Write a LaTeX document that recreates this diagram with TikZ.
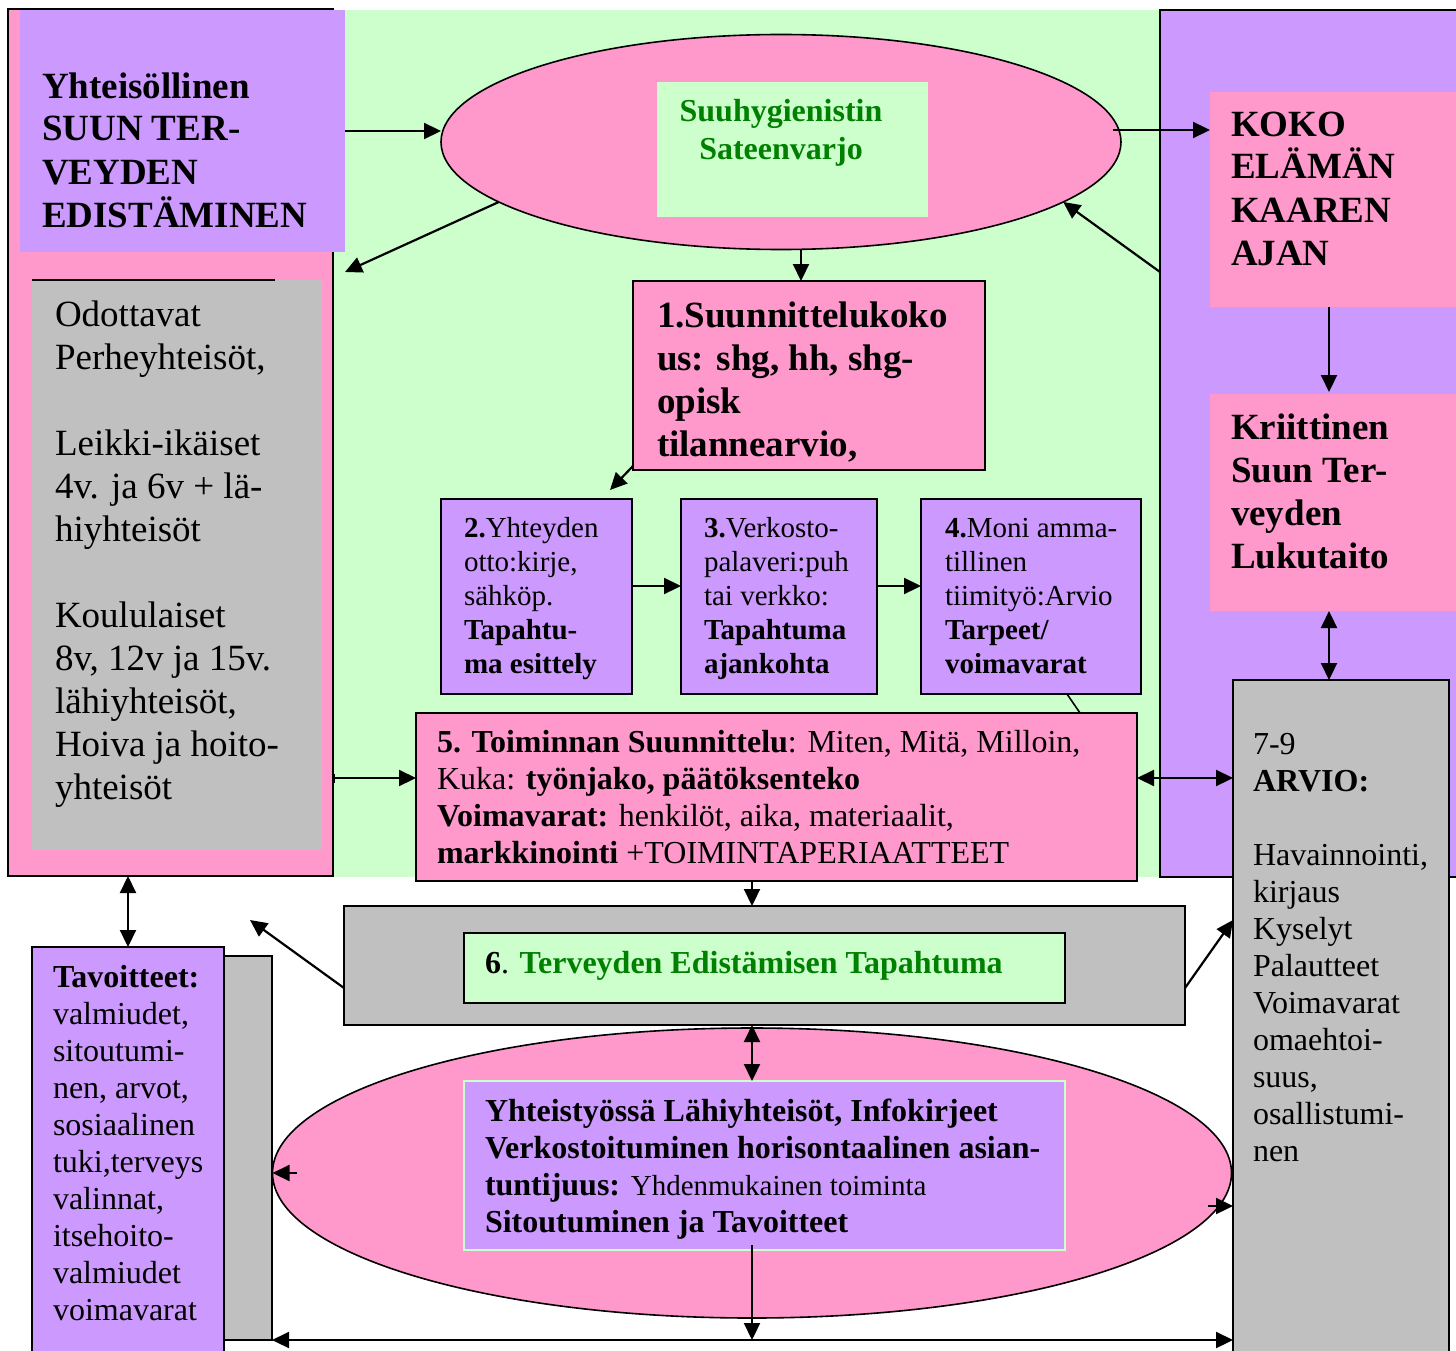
\documentclass[tikz,border=0pt]{standalone}
\usepackage{fontspec}
\setmainfont{Liberation Serif}
\usetikzlibrary{arrows.meta,shapes.geometric,calc}
\definecolor{bggreen}{HTML}{CCFFCC}
\definecolor{pinkc}{HTML}{FF99CC}
\definecolor{purp}{HTML}{CC99FF}
\definecolor{grayc}{HTML}{C0C0C0}
\definecolor{dgreen}{HTML}{008000}
\newcommand{\fsz}[2]{\fontsize{#1}{#2}\selectfont}
\newcommand{\topstrut}{\rule{0pt}{0.8em}}
\begin{document}
\begin{tikzpicture}[x=1pt,y=-1pt,
 box/.style={draw=black, line width=1.6pt, anchor=north west, inner sep=0pt, outer sep=0pt},
 fillbox/.style={anchor=north west, inner sep=0pt, outer sep=0pt},
 txt/.style={anchor=north west, inner sep=0pt, outer sep=0pt, align=left},
 arr/.style={line width=2.2pt, -{Triangle[length=17pt,width=16pt]}},
 darr/.style={line width=2.2pt, {Triangle[length=17pt,width=16pt]}-{Triangle[length=17pt,width=16pt]}},
 barr/.style={line width=2.2pt, {Bar[width=9pt,line width=2pt]}-{Triangle[length=17pt,width=16pt]}},
 ell/.style={ellipse, draw=black, line width=1.6pt, fill=pinkc, inner sep=0pt, outer sep=0pt},
]
\fill[white] (0,0) rectangle (1456,1351);
\useasboundingbox (0,0) rectangle (1456,1351);

% green background
\node[fillbox, fill=bggreen, minimum width=830pt, minimum height=867pt] (bg) at (330,10) {};

% left column
\node[box, fill=pinkc, minimum width=325pt, minimum height=867pt] (lbox) at (8,9) {};
\node[fillbox, fill=purp, minimum width=325pt, minimum height=242pt] (title) at (20,10) {};
\node[fillbox, fill=grayc, minimum width=290pt, minimum height=570pt] (lgray) at (32,280) {};
\draw[line width=1.6pt] (lgray.north west) -- ($(lgray.north west)+(243,0)$);
\node[txt, font=\fsz{37}{43}\bfseries] (titlet) at (42,68.4)
 {\topstrut Yhteisöllinen\\SUUN TER-\\VEYDEN\\EDISTÄMINEN};
\node[txt, font=\fsz{37}{43}] (lgrayt) at (55,296.4)
 {\topstrut Odottavat\\Perheyhteisöt,\\[43pt]Leikki-ikäiset\\4v. ja 6v + lä-\\hiyhteisöt\\[43pt]Koululaiset\\8v, 12v ja 15v.\\lähiyhteisöt,\\Hoiva ja hoito-\\yhteisöt};

% right column
\node[box, fill=purp, minimum width=320pt, minimum height=867pt] (rbox) at (1160,10) {};
\node[fillbox, fill=pinkc, minimum width=250pt, minimum height=215pt] (koko) at (1210,92) {};
\node[fillbox, fill=pinkc, minimum width=250pt, minimum height=217pt] (krit) at (1210,394) {};
\node[txt, font=\fsz{37}{43}\bfseries] (kokot) at (1231,106.4)
 {\topstrut KOKO\\ELÄMÄN\\KAAREN\\AJAN};
\node[txt, font=\fsz{37}{43}\bfseries] (kritt) at (1231,409.4)
 {\topstrut Kriittinen\\Suun Ter-\\veyden\\Lukutaito};
\node[box, fill=grayc, minimum width=216pt, minimum height=700pt] (arvio) at (1233,680) {};
\node[txt, font=\fsz{32}{37}] (arviot) at (1253,728.4)
 {\topstrut 7-9\\\textbf{ARVIO:}\\[37pt]Havainnointi,\\kirjaus\\Kyselyt\\Palautteet\\Voimavarat\\omaehtoi-\\suus,\\osallistumi-\\nen};

% top ellipse
\node[ell, minimum width=680pt, minimum height=215pt] (e1) at (781,142) {};
\node[fillbox, fill=bggreen, minimum width=271pt, minimum height=135pt] (ei) at (657,82) {};
\node[inner sep=0pt, outer sep=0pt, anchor=north, align=center, font=\fsz{32}{38}\bfseries, text=dgreen] (eit) at (781,96.4)
 {\topstrut Suuhygienistin\\Sateenvarjo};

% numbered boxes
\node[box, fill=pinkc, minimum width=352pt, minimum height=189pt] (b1) at (633,281) {};
\node[txt, font=\fsz{37}{43}\bfseries] (b1t) at (657,297.4)
 {\topstrut 1.Suunnittelukoko\\us: shg, hh, shg-\\opisk\\tilannearvio,};
\node[box, fill=purp, minimum width=191pt, minimum height=195pt] (b2) at (441,499) {};
\node[box, fill=purp, minimum width=196pt, minimum height=195pt] (b3) at (681,499) {};
\node[box, fill=purp, minimum width=220pt, minimum height=195pt] (b4) at (921,499) {};
\node[txt, font=\fsz{29}{34}] (b2t) at (464,513.8)
 {\topstrut\textbf{2.}Yhteyden\\otto:kirje,\\sähköp.\\\textbf{Tapahtu-}\\\textbf{ma esittely}};
\node[txt, font=\fsz{29}{34}] (b3t) at (704,513.8)
 {\topstrut\textbf{3.}Verkosto-\\palaveri:puh\\tai verkko:\\\textbf{Tapahtuma}\\\textbf{ajankohta}};
\node[txt, font=\fsz{29}{34}] (b4t) at (945,513.8)
 {\topstrut\textbf{4.}Moni amma-\\tillinen\\tiimityö:Arvio\\\textbf{Tarpeet/}\\\textbf{voimavarat}};
\node[box, fill=pinkc, minimum width=721pt, minimum height=168pt] (b5) at (416,713) {};
\node[txt, font=\fsz{32}{37}] (b5t) at (437,726.4)
 {\topstrut\textbf{5. Toiminnan Suunnittelu}: Miten, Mitä, Milloin,\\Kuka: \textbf{työnjako, päätöksenteko}\\\textbf{Voimavarat:} henkilöt, aika, materiaalit,\\\textbf{markkinointi} +TOIMINTAPERIAATTEET};
\node[box, fill=grayc, minimum width=841pt, minimum height=119pt] (b6) at (344,906) {};
\node[box, fill=bggreen, minimum width=601pt, minimum height=70pt] (b6i) at (464,933) {};
\node[txt, font=\fsz{32}{37}] (b6t) at (485,947.4)
 {\topstrut\textbf{6}. \textcolor{dgreen}{\textbf{Terveyden Edistämisen Tapahtuma}}};

% bottom ellipse
\node[ell, minimum width=959pt, minimum height=290pt] (e2) at (752,1173) {};
\node[fillbox, fill=purp, draw=bggreen, line width=1.6pt, minimum width=601pt, minimum height=169pt] (e2i) at (464,1081) {};
\node[txt, font=\fsz{32}{37}] (e2t) at (485,1095.4)
 {\topstrut\textbf{Yhteistyössä Lähiyhteisöt, Infokirjeet}\\\textbf{Verkostoituminen horisontaalinen asian-}\\\textbf{tuntijuus:} {\fsz{29}{37}Yhdenmukainen toiminta}\\\textbf{Sitoutuminen ja Tavoitteet}};

% bottom left
\node[box, fill=grayc, minimum width=48pt, minimum height=384pt] (tavg) at (224,956) {};
\node[box, fill=purp, minimum width=192pt, minimum height=420pt] (tav) at (32,947) {};
\node[txt, font=\fsz{32}{37}] (tavt) at (53,961.4)
 {\topstrut\textbf{Tavoitteet:}\\valmiudet,\\sitoutumi-\\nen, arvot,\\sosiaalinen\\tuki,terveys\\valinnat,\\itsehoito-\\valmiudet\\voimavarat};

% coordinates for free ends
\coordinate (k1) at (1113,130);
\coordinate (c1) at (345,272);
\coordinate (c2) at (1160,272);
\coordinate (c3) at (801,250);
\coordinate (c4) at (610,490);
\coordinate (c5) at (0,586);
\coordinate (c6) at (0,778);
\coordinate (c7) at (752,0);
\coordinate (c8) at (250,920);
\coordinate (c9) at (1233,920);
\coordinate (c10) at (752,1340);
\coordinate (c11) at (1208,1206);
\coordinate (c12) at (128,0);
\coordinate (c13) at (1329,0);

% connectors
\draw[arr] (title.east) -- (title.east -| e1.west);
\draw[arr] (k1) -- (k1 -| koko.west);
\draw[arr] (e1.192) -- (c1);
\draw[arr] (c2) -- (e1.348);
\draw[arr] (c3) -- (c3 |- b1.north);
\draw[arr] ($(b1.south west)+(0,-4)$) -- (c4);
\draw[arr] (b2.east |- c5) -- (b3.west |- c5);
\draw[arr] (b3.east |- c5) -- (b4.west |- c5);
\draw[line width=1.6pt] ($(b4.south west)+(146,0)$) -- ($(b5.north west)+(664,0)$);
\draw[barr] (lbox.east |- c6) -- (b5.west |- c6);
\draw[darr] (b5.east |- c6) -- (arvio.west |- c6);
\draw[arr] (b5.south -| c7) -- (b6.north -| c7);
\draw[arr] ($(b6.south west)+(0,-37)$) -- (c8);
\draw[arr] ($(b6.south east)+(0,-37)$) -- (c9);
\draw[darr] (b6.south -| c7) -- (e2i.north -| c7);
\draw[arr] ($(e2i.south -| c7)+(0,-5)$) -- (c10);
\draw[darr] (tavg.east |- c10) -- (arvio.west |- c10);
\draw[arr] ($(e2.west)+(24,0)$) -- (e2.west);
\draw[arr] (c11) -- (arvio.west |- c11);
\draw[darr] (lbox.south -| c12) -- (tav.north -| c12);
\draw[arr] (koko.south -| c13) -- ($(krit.north -| c13)+(0,-2)$);
\draw[darr] (krit.south -| c13) -- (arvio.north -| c13);
\end{tikzpicture}
\end{document}
